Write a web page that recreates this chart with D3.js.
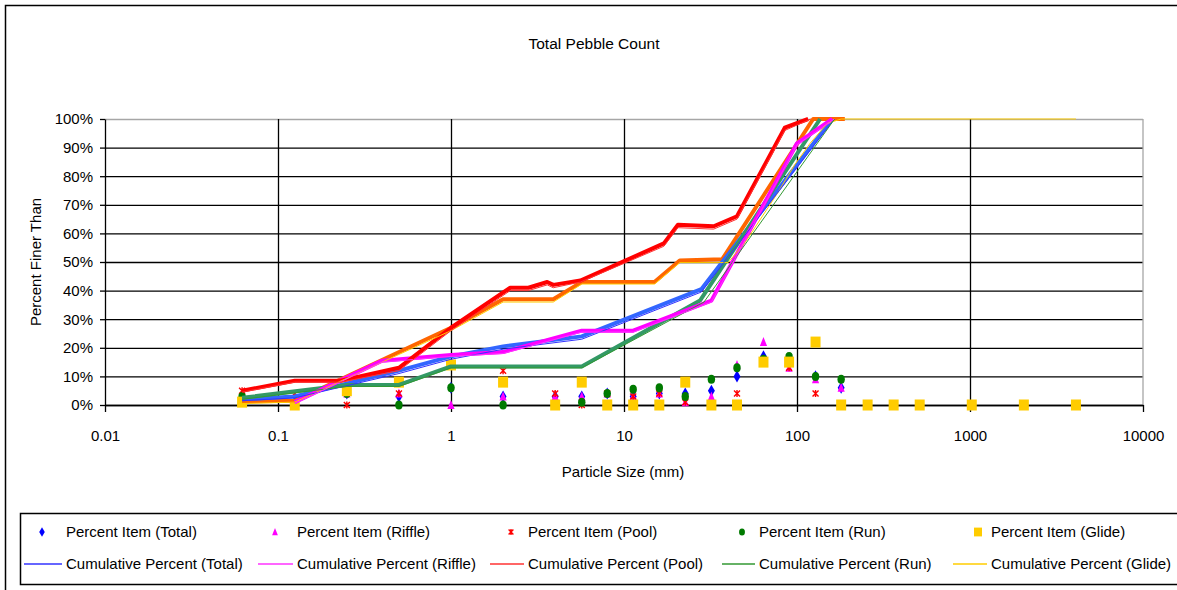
<!DOCTYPE html>
<html><head><meta charset="utf-8">
<script src="https://cdn.jsdelivr.net/npm/d3@7"></script>
<style>
body{margin:0;background:#fff;}
svg text{font-family:"Liberation Sans",Arial,sans-serif;fill:#000;}
</style></head><body>
<svg id="chart" width="1177" height="590"></svg>
<script>
// ---------- DATA ----------
const chartTitle = "Total Pebble Count";
const xTitle = "Particle Size (mm)";
const yTitle = "Percent Finer Than";
const xTicks = [0.01, 0.1, 1, 10, 100, 1000, 10000];
const yTicks = [0, 10, 20, 30, 40, 50, 60, 70, 80, 90, 100];

// size classes (mm) of the item points
const pointSizes = [0.062, 0.125, 0.25, 0.5, 1, 2, 4, 5.7, 8, 11.3, 16, 22.6, 32, 45, 64, 90, 128, 180];
const glideSizes = [0.062, 0.125, 0.25, 0.5, 1, 2, 4, 5.7, 8, 11.3, 16, 22.6, 32, 45, 64, 90, 128, 180, 256, 362, 512, 1024, 2048, 4096];

// percent item values
const itemTotal  = [2, 1, 4, 3, 6, 3, 3, 3, 4, 3, 4, 4, 5, 10, 17, 15, 10, 6];
const itemRiffle = [1, 0, 4, 4, 0, 3, 3, 3, 4, 3, 4, 1, 3, 14, 22, 13, 9, 6];
const itemPool   = [5, 4, 0, 4, 14, 12, 4, 0, 4, 3, 4, 1, 0, 4, 15, 13, 4, 0];
const itemRun    = [3, 0, 4, 0, 6, 0, 0, 1, 4, 5.5, 6, 3, 9, 13, 16, 17, 10, 9];
const itemGlide  = [1, 0, 5, 8, 14, 8, 0, 8, 0, 0, 0, 8, 0, 0, 15, 15, 22, 0, 0, 0, 0, 0, 0, 0];

// heavy cumulative curves
const heavyTotalSizes  = [0.062, 0.125, 0.5, 1, 2, 5.7, 28, 160];
const heavyTotalPct    = [2, 3, 12, 17, 20.5, 24, 40.5, 100];
const heavyRiffleSizes = [0.125, 0.4, 1, 2, 5.7, 11.3, 32, 100, 160];
const heavyRifflePct   = [1, 15.5, 17.5, 18.5, 26, 26, 36.5, 91.5, 100];
const heavyPoolSizes   = [0.062, 0.125, 0.23, 0.5, 1, 2.2, 2.8, 3.6, 3.9, 5.6, 17, 20.5, 33, 45, 85, 116];
const heavyPoolPct     = [5, 8.5, 8.5, 13, 27, 41, 41, 43, 42, 43.5, 56.5, 63, 62.5, 66, 97, 100];
const heavyRunSizes    = [0.062, 0.25, 0.5, 1, 5.7, 27.5, 136];
const heavyRunPct      = [2.5, 7, 7, 13.5, 13.5, 36.5, 100];
const heavyGlideSizes  = [0.062, 0.125, 1, 2, 3.9, 5.7, 15, 21, 37, 124, 189];
const heavyGlidePct    = [1.2, 1.5, 27, 37, 37, 43, 43, 50.5, 51, 100, 100];

// cumulative percent (legend series, thin)
const cumTotalSizes  = [0.062, 0.125, 0.5, 1, 2, 5.7, 28, 164];
const cumTotalPct    = [1.5, 2.5, 11, 16, 19.5, 23, 39.5, 100];
const cumRiffleSizes = [0.125, 0.4, 1, 2, 5.7, 11.3, 32, 100, 164];
const cumRifflePct   = [0.5, 15, 17, 18, 25.5, 25.5, 36, 91, 100];
const cumPoolSizes   = [0.062, 0.125, 0.23, 0.5, 1, 2.2, 2.8, 3.6, 3.9, 5.6, 17, 20.5, 33, 45, 85, 120];
const cumPoolPct     = [4.5, 8, 8, 12, 26, 40, 40, 42, 41, 43, 55.5, 62, 61.5, 65, 96, 100];
const cumRunSizes    = [0.062, 0.25, 0.5, 1, 5.7, 29, 165];
const cumRunPct      = [2, 6.5, 6.5, 13, 13, 36, 100];
const cumGlideSizes  = [0.062, 0.125, 1, 2, 3.9, 5.7, 15, 21, 40, 51, 77, 97, 119, 150, 180, 4096];
const cumGlidePct    = [0.5, 1, 26, 36, 36, 42.3, 42.3, 49.8, 49.8, 57.5, 74, 84, 91.5, 98.5, 100, 100];

const itemNames = ["Percent Item (Total)", "Percent Item (Riffle)", "Percent Item (Pool)", "Percent Item (Run)", "Percent Item (Glide)"];
const cumNames  = ["Cumulative Percent (Total)", "Cumulative Percent (Riffle)", "Cumulative Percent (Pool)", "Cumulative Percent (Run)", "Cumulative Percent (Glide)"];

// ---------- STYLE ----------
const markerColors = ["#0000FF", "#FF00FF", "#FF0000", "#007A00", "#FFCC00"];
const markerKinds  = ["diamond", "triangle", "asterisk", "circle", "square"];
const heavyColors  = ["#3366FF", "#FF00FF", "#FF0000", "#339966", "#FF6600"];
const thinColors   = ["#3333FF", "#FF33FF", "#FF3333", "#339933", "#FFCC00"];

const svg = d3.select("#chart");
const L = 105, R = 1143, T = 119, B = 405;
const x = d3.scaleLog().domain([0.01, 10000]).range([L, R]);
const y = d3.scaleLinear().domain([0, 100]).range([B, T]);

// outer frame
svg.append("rect").attr("x", 5.5).attr("y", 5.5).attr("width", 1250).attr("height", 600)
  .attr("fill", "#fff").attr("stroke", "#000").attr("stroke-width", 1.5);

// title
svg.append("text").attr("x", 594).attr("y", 49).attr("text-anchor", "middle")
  .style("font-size", "15.5px").text(chartTitle);

// horizontal gridlines
const gy = svg.append("g").attr("transform", `translate(${L},0)`)
  .call(d3.axisLeft(y).tickValues(yTicks).tickSize(-(R - L)).tickFormat(""));
gy.select(".domain").remove();
gy.selectAll(".tick line").attr("stroke", d => d === 100 ? "#a6a6a6" : "#000").attr("stroke-width", 1.3);

// vertical gridlines
const gx = svg.append("g").attr("transform", `translate(0,${B})`)
  .call(d3.axisBottom(x).tickValues(xTicks.slice(1, -1)).tickSize(-(B - T)).tickFormat(""));
gx.select(".domain").remove();
gx.selectAll(".tick line").attr("stroke", "#000").attr("stroke-width", 1.3);

// right border
svg.append("line").attr("x1", R).attr("x2", R).attr("y1", T).attr("y2", B)
  .attr("stroke", "#a6a6a6").attr("stroke-width", 1.3);

// y axis
const ya = svg.append("g").attr("transform", `translate(${L},0)`)
  .call(d3.axisLeft(y).tickValues(yTicks).tickSize(5).tickSizeOuter(0).tickPadding(7).tickFormat(d => d + "%"));
ya.selectAll("text").style("font-size", "15px").attr("fill", "#000");
ya.selectAll("line, path").attr("stroke", "#000").attr("stroke-width", 1.3);

// x axis
const xa = svg.append("g").attr("transform", `translate(0,${B})`)
  .call(d3.axisBottom(x).tickValues(xTicks).tickSize(7).tickSizeOuter(0).tickPadding(18).tickFormat(d3.format("")));
xa.selectAll("text").style("font-size", "15px").attr("fill", "#000");
xa.selectAll("line, path").attr("stroke", "#000").attr("stroke-width", 1.3);

// axis titles
svg.append("text").attr("x", 623).attr("y", 477).attr("text-anchor", "middle")
  .style("font-size", "15px").text(xTitle);
svg.append("text").attr("transform", "translate(41,262) rotate(-90)").attr("text-anchor", "middle")
  .style("font-size", "15px").text(yTitle);

// marker drawing
function drawMarker(g, kind, color, scale) {
  const s = scale || 1;
  if (kind === "diamond") {
    g.append("path").attr("d", d3.symbol(d3.symbolDiamond, 42 * s * s)()).attr("fill", color);
  } else if (kind === "triangle") {
    g.append("path").attr("d", `M0,${-5 * s}L${3.6 * s},${4 * s}L${-3.6 * s},${4 * s}Z`).attr("fill", color);
  } else if (kind === "asterisk") {
    const a = 3 * s;
    g.append("path").attr("d", `M${-a},${-a}L${a},${a}M${-a},${a}L${a},${-a}M0,${-a - 0.5}L0,${a + 0.5}`)
      .attr("stroke", color).attr("stroke-width", 1.4).attr("fill", "none");
  } else if (kind === "circle") {
    g.append("ellipse").attr("rx", 3.7 * s).attr("ry", 4.5 * s).attr("fill", color);
  } else if (kind === "square") {
    g.append("rect").attr("x", -5 * s).attr("y", -5.5 * s).attr("width", 10 * s).attr("height", 11 * s).attr("fill", color);
  }
}

const itemSeries = [
  { sizes: pointSizes, vals: itemTotal },
  { sizes: pointSizes, vals: itemRiffle },
  { sizes: pointSizes, vals: itemPool },
  { sizes: pointSizes, vals: itemRun },
  { sizes: glideSizes, vals: itemGlide }
];
const pts = svg.append("g");
itemSeries.forEach((s, i) => {
  s.sizes.forEach((sz, j) => {
    const g = pts.append("g").attr("transform", `translate(${x(sz)},${y(s.vals[j])})`);
    drawMarker(g, markerKinds[i], markerColors[i]);
  });
});

const line = d3.line().x(d => x(d[0])).y(d => y(d[1]));
const heavy = [
  [heavyTotalSizes, heavyTotalPct], [heavyRiffleSizes, heavyRifflePct], [heavyPoolSizes, heavyPoolPct],
  [heavyRunSizes, heavyRunPct], [heavyGlideSizes, heavyGlidePct]
];
const thin = [
  [cumTotalSizes, cumTotalPct], [cumRiffleSizes, cumRifflePct], [cumPoolSizes, cumPoolPct],
  [cumRunSizes, cumRunPct], [cumGlideSizes, cumGlidePct]
];
const heavyOrder = [4, 0, 3, 1, 2];
heavyOrder.forEach(i => {
  const pairs = heavy[i][0].map((s, k) => [s, heavy[i][1][k]]);
  svg.append("path").attr("d", line(pairs)).attr("fill", "none")
    .attr("stroke", heavyColors[i]).attr("stroke-width", 4).attr("stroke-linejoin", "round");
});
heavyOrder.forEach(i => {
  const pairs = thin[i][0].map((s, k) => [s, thin[i][1][k]]);
  svg.append("path").attr("d", line(pairs)).attr("fill", "none")
    .attr("stroke", thinColors[i]).attr("stroke-width", 1);
});

// legend
svg.append("rect").attr("x", 20.5).attr("y", 513.5).attr("width", 1200).attr("height", 71)
  .attr("fill", "#fff").attr("stroke", "#000").attr("stroke-width", 1.5);
const colText = [66, 297, 528, 759, 991];
const colMark = [42, 275, 511, 742, 978];
const lineStart = [24, 258, 490, 722, 953];
itemNames.forEach((nm, i) => {
  const g = svg.append("g").attr("transform", `translate(${colMark[i]},532)`);
  drawMarker(g, markerKinds[i], markerColors[i], 0.8);
  svg.append("text").attr("x", colText[i]).attr("y", 537).style("font-size", "15px").text(nm);
});
cumNames.forEach((nm, i) => {
  svg.append("line").attr("x1", lineStart[i]).attr("x2", colText[i] - 4).attr("y1", 564).attr("y2", 564)
    .attr("stroke", thinColors[i]).attr("stroke-width", 1.5);
  svg.append("text").attr("x", colText[i]).attr("y", 569).style("font-size", "15px").text(nm);
});
</script>
</body></html>
